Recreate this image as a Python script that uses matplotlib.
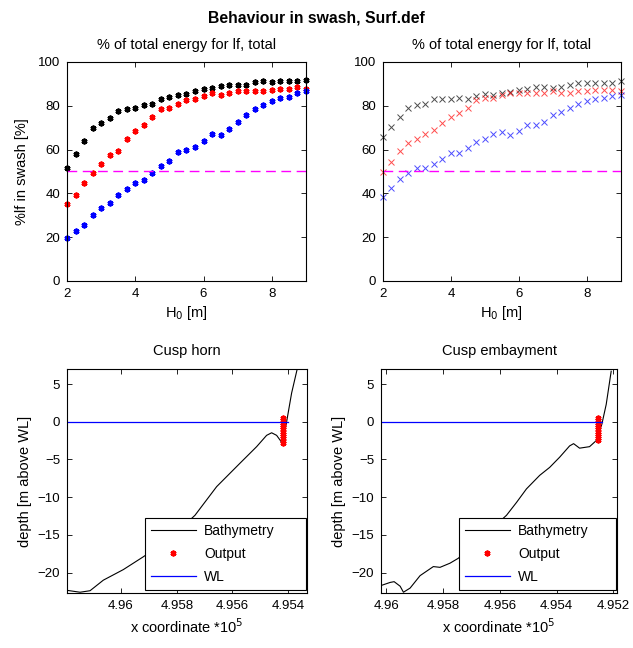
import numpy as np
import matplotlib
matplotlib.use('Agg')
import matplotlib.pyplot as plt

plt.rcParams['font.family'] = ['Liberation Sans', 'DejaVu Sans']
plt.rcParams['font.size'] = 9.5

# wave height H0 [m]
h0 = [2 + 0.25 * i for i in range(29)]

# % lf energy in swash, left panel (dots)
black_l = [51.8, 57.8, 63.8, 69.9, 72.0, 74.5, 77.5, 78.7, 79.2, 80.2, 80.9, 83.1, 84.2, 84.8, 85.3,
           86.9, 87.5, 88.1, 89.1, 89.7, 89.7, 89.7, 90.9, 91.3, 90.9, 91.3, 91.3, 91.3, 91.8]
red_l = [35.0, 39.2, 44.8, 49.1, 53.5, 57.4, 59.4, 64.9, 68.7, 71.4, 74.8, 78.3, 79.2, 80.7, 82.4,
         83.3, 84.5, 85.6, 85.1, 85.7, 86.9, 86.9, 86.9, 86.9, 87.4, 87.8, 87.8, 88.4, 87.8]
blue_l = [19.8, 22.8, 25.5, 29.9, 33.1, 35.4, 39.1, 41.9, 44.8, 45.9, 49.1, 52.4, 55.0, 59.0, 60.0,
          61.1, 63.8, 67.2, 66.6, 69.5, 72.6, 76.0, 78.3, 80.5, 82.1, 83.6, 84.0, 85.9, 86.6]

# right panel (crosses)
black_r = [65.8, 70.1, 74.8, 79.0, 80.2, 81.0, 83.3, 83.3, 83.3, 83.7, 83.3, 84.5, 85.3, 84.8, 85.6,
           86.3, 87.1, 87.8, 88.6, 88.6, 88.1, 88.6, 89.7, 90.3, 90.3, 90.3, 90.3, 90.3, 91.2]
red_r = [49.8, 54.1, 59.4, 62.8, 65.0, 67.0, 69.0, 72.2, 74.8, 76.9, 79.2, 82.8, 83.6, 83.7, 85.1,
         85.6, 86.0, 85.6, 86.0, 86.0, 86.6, 86.0, 86.0, 86.6, 86.6, 87.1, 87.1, 87.1, 86.6]
blue_r = [38.4, 42.6, 46.5, 49.2, 51.4, 51.7, 53.6, 55.6, 58.5, 58.5, 60.8, 63.5, 64.6, 67.3, 67.8,
          66.6, 68.4, 71.1, 71.1, 72.6, 75.7, 77.2, 79.2, 81.0, 82.2, 83.3, 83.6, 84.5, 85.1]

threshold = 50

# bathymetry, cusp horn (x in 1e5 m, z in m)
horn_x = [4.961937, 4.961470, 4.961112, 4.960635, 4.959918, 4.959200, 4.958600, 4.957900,
          4.957346, 4.956568, 4.955732, 4.955133, 4.954775, 4.954595, 4.954416, 4.954200,
          4.954057, 4.953878, 4.953677]
horn_z = [-22.35, -22.6, -22.4, -21.0, -19.6, -17.9, -16.4, -14.3,
          -12.4, -8.6, -5.5, -3.3, -1.8, -1.46, -1.8, -2.9,
          0.0, 3.8, 7.0]
horn_out_x = 4.95420
horn_out_z = [0.5, 0.2, -0.1, -0.4, -0.7, -1.0, -1.3, -1.6, -1.9, -2.2, -2.5, -2.8]
horn_wl_x = [4.96194, 4.95401]

# bathymetry, cusp embayment
emb_x = [4.960211, 4.959860, 4.959720, 4.959509, 4.959393, 4.959158, 4.958807, 4.958340,
         4.958105, 4.957754, 4.957463, 4.956702, 4.956175, 4.955765, 4.955414, 4.955063,
         4.954596, 4.954246, 4.953895, 4.953544, 4.953404, 4.953193, 4.952842, 4.952607,
         4.952411, 4.952256, 4.952081]
emb_z = [-21.75, -21.3, -21.2, -21.8, -22.6, -22.05, -20.4, -19.2,
         -19.3, -18.75, -18.1, -15.6, -13.8, -12.4, -10.7, -8.9,
         -7.1, -6.05, -4.7, -3.2, -2.9, -3.5, -3.3, -2.5,
         -0.35, 2.3, 6.7]
emb_out_x = 4.95255
emb_out_z = [0.5, 0.2, -0.1, -0.4, -0.7, -1.0, -1.3, -1.6, -1.9, -2.2, -2.4]
emb_wl_x = [4.96018, 4.952396]

ASTERISK = (6, 2, 0)


def style_axes(ax):
    ax.tick_params(direction='in', top=True, right=True, length=3.5, width=0.6,
                   labelsize=9.5, pad=5)
    for s in ax.spines.values():
        s.set_linewidth(0.8)


fig = plt.figure(figsize=(6.33, 6.48), dpi=100)
fig.text(0.5, 0.972, 'Behaviour in swash, Surf.def', ha='center', va='center',
         fontsize=11.3, fontweight='bold')

ax1 = fig.add_axes([0.1058, 0.5664, 0.3776, 0.338])
ax2 = fig.add_axes([0.605, 0.5664, 0.376, 0.338])
ax3 = fig.add_axes([0.1058, 0.0849, 0.379, 0.3457])
ax4 = fig.add_axes([0.602, 0.0849, 0.373, 0.3457])

# top panels
for ax, ys, mk in [(ax1, (black_l, red_l, blue_l), 'a'), (ax2, (black_r, red_r, blue_r), 'x')]:
    for y, c in zip(ys, ['k', 'r', 'b']):
        if mk == 'a':
            ax.plot(h0, y, ls='none', marker=ASTERISK, ms=4.2, color=c, mew=1.4, clip_on=False)
        else:
            ax.plot(h0, y, ls='none', marker='x', ms=5, color=c, mew=0.7, alpha=0.7, clip_on=False)
    ax.axhline(threshold, color='#ff00ff', ls=(0, (7, 4)), lw=1)
    ax.set_xlim(2, 9)
    ax.set_ylim(0, 100)
    ax.set_xticks([2, 4, 6, 8])
    ax.set_yticks(range(0, 101, 20))
    ax.set_title('% of total energy for lf, total', fontsize=10.5, pad=9)
    ax.set_xlabel('H$_0$ [m]', fontsize=10.5, labelpad=3)
    style_axes(ax)
ax1.set_ylabel('%lf in swash [%]', fontsize=10.5, labelpad=6)

# bottom panels
for ax, bx, bz, ox, oz, wx, title, xl, xt, lbox in [
        (ax3, horn_x, horn_z, horn_out_x, horn_out_z, horn_wl_x, 'Cusp horn',
         (4.96194, 4.95333), [4.96, 4.958, 4.956, 4.954], (0.325, 0.013, 0.67, 0.3)),
        (ax4, emb_x, emb_z, emb_out_x, emb_out_z, emb_wl_x, 'Cusp embayment',
         (4.96018, 4.95187), [4.96, 4.958, 4.956, 4.954, 4.952], (0.33, 0.013, 0.665, 0.3))]:
    ax.plot(bx, bz, color='k', lw=0.8, label='Bathymetry')
    ax.plot([ox] * len(oz), oz, ls='none', marker=ASTERISK, ms=4.2, color='r', mew=1.4,
            label='Output')
    ax.plot(wx, [0, 0], color='b', lw=0.9, label='WL')
    ax.set_xlim(*xl)
    ax.set_ylim(-22.7, 7)
    ax.set_xticks(xt)
    ax.set_xticklabels([('%.3f' % v).rstrip('0') for v in xt])
    ax.set_yticks([5, 0, -5, -10, -15, -20])
    ax.set_title(title, fontsize=10.5, pad=10)
    ax.set_xlabel('x coordinate *10$^5$', fontsize=10.5, labelpad=4)
    ax.set_ylabel('depth [m above WL]', fontsize=10.5)
    style_axes(ax)
    leg = ax.legend(loc='lower left', bbox_to_anchor=lbox, mode='expand', fontsize=10,
                    fancybox=False, framealpha=1, edgecolor='k', borderaxespad=0,
                    handlelength=3.2, handletextpad=0.6, labelspacing=0.65, borderpad=0.45)
    leg.get_frame().set_linewidth(0.8)

fig.savefig('out.png', dpi=100)
